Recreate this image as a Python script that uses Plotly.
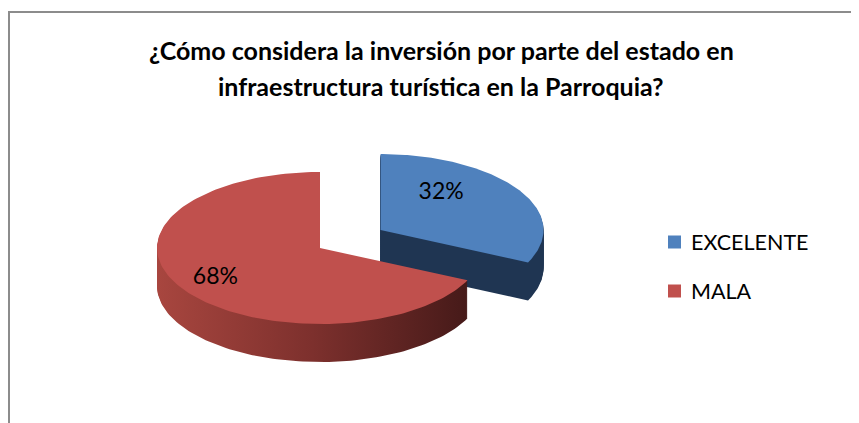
import numpy as np
import plotly.graph_objects as go

# ---- data ----
categories = ["EXCELENTE", "MALA"]
values = [32, 68]
title_lines = ["¿Cómo considera la inversión por parte del estado en",
               "infraestructura turística en la Parroquia?"]

# ---- style ----
W, H = 859, 423            # browser window
OFF = 8                    # default page body margin
CX, CY = 320, 248          # pie centre (window pixels)
RX, RY = 163, 76           # ellipse radii
DEPTH = 38                 # extrusion depth
EXPLODE = [0.44, 0.0]
TOP_COLORS = ["#4F81BD", "#C0504D"]
SIDE_SCALES = [
    [[0, "#1F3552"], [1, "#1F3552"]],
    [[0, "#A8463F"], [0.5, "#7D302D"], [1, "#461A19"]],
]
LABEL_R = [(0.44, 0.9), (0.76, 0.74)]
FONT = "Lato"
TITLE_Y = [50, 86]
LEG_Y = [242, 291]
LEG_SQ_X, LEG_TX_X = 674.5, 689

total = sum(values)
fracs = [v / total for v in values]
starts = np.cumsum([0] + fracs[:-1]) * 2 * np.pi
ends = starts + np.array(fracs) * 2 * np.pi


def pt(cx, cy, t, fx=1.0, fy=1.0):
    return cx + fx * RX * np.sin(t), cy - fy * RY * np.cos(t)


fig = go.Figure()

for i in [0, 1]:
    a0, a1 = starts[i], ends[i]
    mid = (a0 + a1) / 2
    ox, oy = pt(0, 0, mid, EXPLODE[i], EXPLODE[i])
    cx, cy = CX + ox, CY + oy
    t = np.linspace(a0, a1, 160)
    ax, ay = pt(cx, cy, t)
    px = np.concatenate([[cx], ax, [cx]])
    py = np.concatenate([[cy], ay, [cy]])
    for d in range(DEPTH, 0, -1):
        fig.add_trace(go.Scatter(
            x=px, y=py + d, mode="lines", line=dict(width=0),
            fill="toself",
            fillgradient=dict(type="horizontal", colorscale=SIDE_SCALES[i]),
            hoverinfo="skip", showlegend=False))
    fig.add_trace(go.Scatter(
        x=px, y=py, mode="lines", line=dict(width=0),
        fill="toself", fillcolor=TOP_COLORS[i],
        hoverinfo="skip", showlegend=False))
    lx, ly = pt(cx, cy, mid, *LABEL_R[i])
    fig.add_trace(go.Scatter(
        x=[lx], y=[ly], mode="text",
        text=[f"{round(values[i] / total * 100)}%"],
        textfont=dict(family=FONT, size=23, color="black"),
        hoverinfo="skip", showlegend=False))

# legend (drawn manually for exact placement)
fig.add_trace(go.Scatter(
    x=[LEG_SQ_X] * len(categories), y=LEG_Y, mode="markers",
    marker=dict(symbol="square", size=13, color=TOP_COLORS, line=dict(width=0)),
    hoverinfo="skip", showlegend=False))
for i, c in enumerate(categories):
    fig.add_annotation(x=LEG_TX_X, y=LEG_Y[i], xref="x", yref="y", text=c,
                       showarrow=False, xanchor="left", yanchor="middle",
                       font=dict(family=FONT, size=21.5, color="black"))

# title
for k, line in enumerate(title_lines):
    fig.add_annotation(x=441, y=TITLE_Y[k], xref="x", yref="y", text=f"<b>{line}</b>",
                       showarrow=False, xanchor="center", yanchor="middle",
                       font=dict(family=FONT, size=25, color="black"))

# chart border
fig.add_shape(type="rect", xref="x", yref="y", x0=9, y0=12, x1=W + 20, y1=H + 20,
              line=dict(color="#8C8C8C", width=2), layer="below")

fig.update_layout(
    width=W - OFF, height=H - OFF,
    margin=dict(l=0, r=0, t=0, b=0),
    paper_bgcolor="white", plot_bgcolor="white",
    xaxis=dict(range=[OFF, W], visible=False, fixedrange=True),
    yaxis=dict(range=[H, OFF], visible=False, fixedrange=True),
    showlegend=False,
)

fig.write_html("out.html")
